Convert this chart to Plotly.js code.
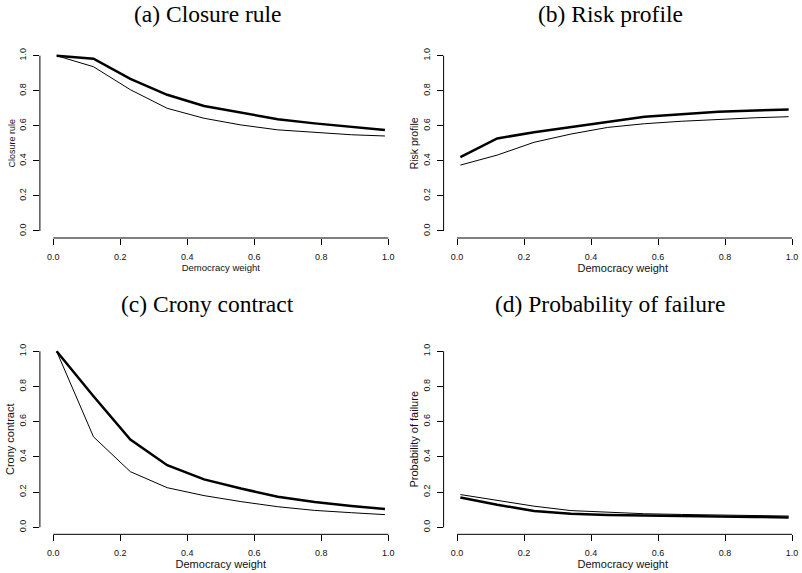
<!DOCTYPE html>
<html>
<head>
<meta charset="utf-8">
<script src="https://cdn.plot.ly/plotly-3.0.1.min.js"></script>
<style>html,body{margin:0;padding:0;background:#fff;}#chart{width:802px;height:573px;}</style>
</head>
<body>
<div id="chart"></div>
<script>
// ---- data ----
const democracyWeight = [0.01, 0.12, 0.23, 0.34, 0.45, 0.56, 0.67, 0.78, 0.89, 0.99];
const closureThick = [1.0, 0.983, 0.868, 0.777, 0.713, 0.675, 0.638, 0.614, 0.594, 0.576];
const closureThin  = [1.0, 0.937, 0.806, 0.700, 0.643, 0.605, 0.577, 0.561, 0.549, 0.542];
const riskThick    = [0.422, 0.528, 0.563, 0.593, 0.622, 0.652, 0.666, 0.680, 0.688, 0.693];
const riskThin     = [0.376, 0.433, 0.506, 0.553, 0.591, 0.612, 0.626, 0.638, 0.646, 0.652];
const cronyThick   = [1.0, 0.745, 0.499, 0.353, 0.272, 0.220, 0.174, 0.144, 0.121, 0.104];
const cronyThin    = [1.0, 0.514, 0.316, 0.225, 0.180, 0.146, 0.117, 0.096, 0.083, 0.072];
const failThick    = [0.169, 0.128, 0.093, 0.077, 0.070, 0.066, 0.064, 0.061, 0.059, 0.056];
const failThin     = [0.186, 0.155, 0.120, 0.095, 0.084, 0.077, 0.073, 0.069, 0.066, 0.064];
const panelTitles  = ['(a) Closure rule', '(b) Risk profile', '(c) Crony contract', '(d) Probability of failure'];
const yLabels      = ['Closure rule', 'Risk profile', 'Crony contract', 'Probability of failure'];
const xLabel       = 'Democracy weight';
const tickValues   = [0, 0.2, 0.4, 0.6, 0.8, 1.0];

// ---- geometry (pixels) ----
const W = 802, H = 573;
const cols = [{x0: 53.3, x1: 388.3}, {x0: 457.0, x1: 792.0}];
const rows = [{y1: 55.7, y0: 231.0}, {y1: 351.3, y0: 527.3}];
const titlePos = [[207, 14], [610, 14], [207, 304], [610, 304]];
const xTitleSize = [9.5, 11, 11, 11];
const yTitleSize = [9, 10.5, 11, 11];

const series = [[closureThick, closureThin], [riskThick, riskThin], [cronyThick, cronyThin], [failThick, failThin]];
const font = 'Liberation Sans, Arial, Helvetica, sans-serif';

const data = [];
const layout = {
  width: W, height: H,
  margin: {l: 0, r: 0, t: 0, b: 0},
  paper_bgcolor: '#fff', plot_bgcolor: '#fff',
  showlegend: false,
  shapes: [], annotations: []
};

for (let i = 0; i < 4; i++) {
  const c = cols[i % 2], r = rows[Math.floor(i / 2)];
  const sx = c.x1 - c.x0, sy = r.y0 - r.y1;
  let L = c.x0 - 0.04 * sx, R = c.x1 + 0.04 * sx, rmax = 1.04;
  if (R > W) { R = W; rmax = (R - c.x0) / sx; }
  const T = r.y1 - 0.04 * sy, B = r.y0 + 0.04 * sy;
  const n = i === 0 ? '' : String(i + 1);
  const xa = 'xaxis' + n, ya = 'yaxis' + n;
  layout[xa] = {
    domain: [L / W, R / W], range: [-0.04, rmax], anchor: 'y' + n,
    showline: false, zeroline: false, showgrid: false,
    ticks: 'outside', ticklen: 6, tickwidth: 1, tickcolor: '#000',
    tickvals: tickValues, tickformat: '.1f', ticklabelstandoff: 4,
    tickfont: {family: font, size: 9, color: '#111'},
    title: {text: xLabel, font: {family: font, size: xTitleSize[i], color: '#111'}, standoff: 0},
    fixedrange: true
  };
  layout[ya] = {
    domain: [1 - B / H, 1 - T / H], range: [-0.04, 1.04], anchor: 'x' + n,
    showline: false, zeroline: false, showgrid: false,
    ticks: 'outside', ticklen: 6, tickwidth: 1, tickcolor: '#000',
    tickvals: tickValues, tickformat: '.1f', tickangle: -90, ticklabelstandoff: 3,
    tickfont: {family: font, size: 9, color: '#111'},
    title: {text: yLabels[i], font: {family: font, size: yTitleSize[i], color: '#111'}, standoff: 1},
    fixedrange: true
  };
  // R-style axis lines spanning only 0..1
  layout.shapes.push({type: 'line', xref: 'paper', yref: 'paper',
    x0: c.x0 / W, x1: c.x1 / W, y0: 1 - B / H, y1: 1 - B / H, line: {color: '#000', width: 1}});
  layout.shapes.push({type: 'line', xref: 'paper', yref: 'paper',
    x0: L / W, x1: L / W, y0: 1 - r.y0 / H, y1: 1 - r.y1 / H, line: {color: '#000', width: 1}});
  layout.annotations.push({text: panelTitles[i], xref: 'paper', yref: 'paper',
    x: titlePos[i][0] / W, y: 1 - titlePos[i][1] / H, xanchor: 'center', yanchor: 'middle',
    showarrow: false, font: {family: 'Liberation Serif, Times New Roman, serif', size: 23.5, color: '#000'}});
  data.push({x: democracyWeight, y: series[i][0], xaxis: 'x' + n, yaxis: 'y' + n, type: 'scatter', mode: 'lines',
    line: {color: '#000', width: 2.5}, hoverinfo: 'skip'});
  data.push({x: democracyWeight, y: series[i][1], xaxis: 'x' + n, yaxis: 'y' + n, type: 'scatter', mode: 'lines',
    line: {color: '#000', width: 1}, hoverinfo: 'skip'});
}

Plotly.newPlot('chart', data, layout, {staticPlot: true});
</script>
</body>
</html>
